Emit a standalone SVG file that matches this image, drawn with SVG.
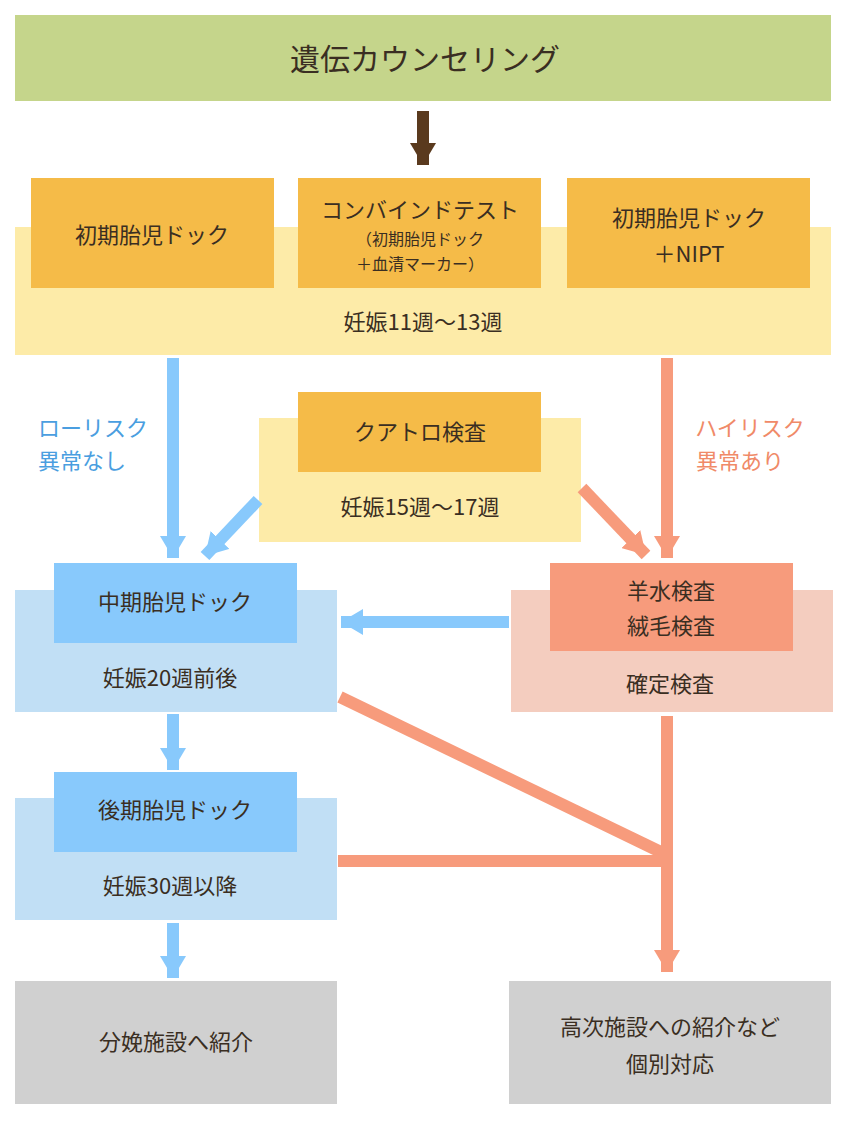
<svg xmlns="http://www.w3.org/2000/svg" width="849" height="1125" viewBox="0 0 849 1125">
<style>
text{font-family:"Noto Sans CJK JP","Noto Sans",sans-serif;fill:#3a2e22;text-anchor:middle}
.b{stroke:#88c9fc;stroke-width:12;fill:none}
.s{stroke:#f79b7c;stroke-width:12;fill:none}
</style>
<defs>
<marker id="mb" markerUnits="userSpaceOnUse" markerWidth="26" markerHeight="26" refX="22" refY="13" orient="auto"><path d="M0,0L22,13L0,26z" fill="#88c9fc"/></marker>
<marker id="ms" markerUnits="userSpaceOnUse" markerWidth="26" markerHeight="26" refX="22" refY="13" orient="auto"><path d="M0,0L22,13L0,26z" fill="#f79b7c"/></marker>
<marker id="mk" markerUnits="userSpaceOnUse" markerWidth="26" markerHeight="26" refX="22" refY="13" orient="auto"><path d="M0,0L22,13L0,26z" fill="#5a3a1e"/></marker>
</defs>
<g id="counseling"><rect x="15" y="15" width="816" height="86" fill="#c5d58b"/><text x="425" y="70" font-size="30">遺伝カウンセリング</text></g>
<g id="early-band"><rect x="15" y="227" width="816" height="128" fill="#fdeba8"/><text x="423" y="330" font-size="22">妊娠11週～13週</text></g>
<g id="early1"><rect x="31" y="178" width="243" height="110" fill="#f5bb48"/><text x="152" y="243" font-size="22">初期胎児ドック</text></g>
<g id="combined"><rect x="298" y="178" width="243" height="110" fill="#f5bb48"/><text x="420" y="218" font-size="22">コンバインドテスト</text><text x="420" y="245" font-size="16">（初期胎児ドック</text><text x="420" y="270" font-size="16">＋血清マーカー）</text></g>
<g id="early-nipt"><rect x="567" y="178" width="243" height="110" fill="#f5bb48"/><text x="689" y="226" font-size="22">初期胎児ドック</text><text x="689" y="262" font-size="22">＋NIPT</text></g>
<g id="quattro-band"><rect x="259" y="418" width="322" height="124" fill="#fdeba8"/><text x="420" y="515" font-size="22">妊娠15週～17週</text></g>
<g id="quattro"><rect x="298" y="392" width="243" height="80" fill="#f5bb48"/><text x="420" y="440" font-size="22">クアトロ検査</text></g>
<g id="mid-band"><rect x="15" y="590" width="322" height="122" fill="#c1dff5"/><text x="170" y="686" font-size="22">妊娠20週前後</text></g>
<g id="mid"><rect x="54" y="563" width="243" height="80" fill="#88c9fc"/><text x="175" y="610" font-size="22">中期胎児ドック</text></g>
<g id="confirm-band"><rect x="511" y="590" width="322" height="122" fill="#f4cdbf"/><text x="670" y="692" font-size="22">確定検査</text></g>
<g id="confirm"><rect x="550" y="563" width="243" height="88" fill="#f79b7c"/><text x="671" y="599" font-size="22">羊水検査</text><text x="671" y="634" font-size="22">絨毛検査</text></g>
<g id="late-band"><rect x="15" y="798" width="322" height="122" fill="#c1dff5"/><text x="170" y="894" font-size="22">妊娠30週以降</text></g>
<g id="late"><rect x="54" y="772" width="243" height="80" fill="#88c9fc"/><text x="175" y="818" font-size="22">後期胎児ドック</text></g>
<g id="delivery"><rect x="15" y="981" width="322" height="123" fill="#d0d0d0"/><text x="176" y="1050" font-size="22">分娩施設へ紹介</text></g>
<g id="referral"><rect x="509" y="981" width="322" height="123" fill="#d0d0d0"/><text x="670" y="1035" font-size="22">高次施設への紹介など</text><text x="670" y="1072" font-size="22">個別対応</text></g>
<g id="connectors">
<line x1="423" y1="111" x2="423" y2="165" stroke="#5a3a1e" stroke-width="12" marker-end="url(#mk)"/>
<line class="b" x1="173" y1="358" x2="173" y2="558" marker-end="url(#mb)"/>
<line class="b" x1="258" y1="500" x2="205" y2="556" marker-end="url(#mb)"/>
<line class="s" x1="667" y1="358" x2="667" y2="558" marker-end="url(#ms)"/>
<line class="s" x1="582" y1="488" x2="646" y2="555" marker-end="url(#ms)"/>
<line class="b" x1="509" y1="622" x2="341" y2="622" marker-end="url(#mb)"/>
<line class="b" x1="173" y1="714" x2="173" y2="770" marker-end="url(#mb)"/>
<line class="b" x1="173" y1="923" x2="173" y2="978" marker-end="url(#mb)"/>
<line class="s" x1="340" y1="697" x2="667" y2="855"/>
<line class="s" x1="338" y1="861" x2="667" y2="861"/>
<line class="s" x1="667" y1="716" x2="667" y2="972" marker-end="url(#ms)"/>
<text x="93" y="436" font-size="22" style="fill:#4a9ee0">ローリスク</text>
<text x="82" y="469" font-size="22" style="fill:#4a9ee0">異常なし</text>
<text x="750" y="436" font-size="22" style="fill:#f08a68">ハイリスク</text>
<text x="740" y="469" font-size="22" style="fill:#f08a68">異常あり</text>
</g>
</svg>
